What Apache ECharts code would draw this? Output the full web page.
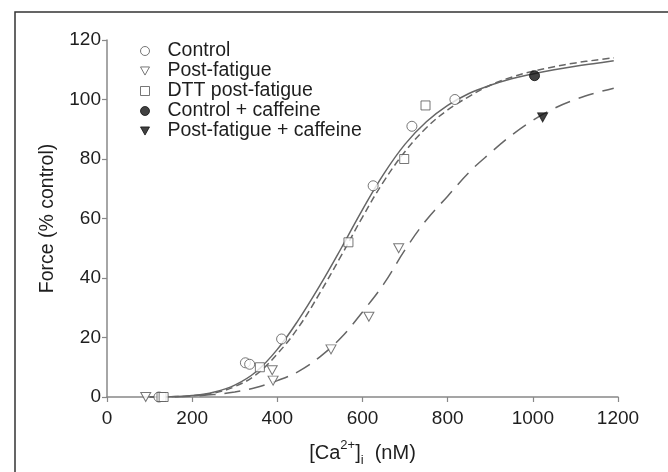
<!DOCTYPE html>
<html>
<head>
<meta charset="utf-8">
<script src="https://cdn.jsdelivr.net/npm/echarts@6/dist/echarts.min.js"></script>
<style>
html,body{margin:0;padding:0;background:#fff;}
#c{width:668px;height:472px;}
</style>
</head>
<body>
<div id="c"></div>
<script>
// ---- data ----
var xTicks = [0, 200, 400, 600, 800, 1000, 1200];
var yTicks = [0, 20, 40, 60, 80, 100, 120];

var controlPts = [[122, 0], [325, 11.5], [335, 11], [410, 19.5], [625, 71], [716, 91], [817, 100]];
var postFatiguePts = [[91, 0], [388, 9], [390, 5.5], [526, 16], [615, 27], [685, 50]];
var dttPts = [[128, 0], [133, 0], [359, 10], [567, 52], [698, 80], [748, 98]];
var controlCaffeinePts = [[1004, 108]];
var postFatigueCaffeinePts = [[1023, 94]];

var curveX = [100, 150, 200, 250, 300, 350, 400, 450, 500, 550, 600, 650, 700, 750, 800, 850, 900, 950, 1000, 1050, 1100, 1150, 1190];
var controlCurve = [0, 0.1, 0.5, 1.6, 4, 8.5, 16, 26, 37.5, 50, 63, 75, 85, 92.5, 98, 102, 104.8, 107, 108.6, 110, 111.2, 112.2, 113];
var dttCurve = [0, 0.1, 0.4, 1.3, 3.5, 7.5, 14.5, 23.5, 35, 47.5, 60.5, 72.5, 82.5, 90.5, 96.5, 101, 104.8, 107.5, 109.5, 111, 112.3, 113.3, 114];
var postFatigueCurve = [0, 0, 0.3, 0.8, 1.7, 3.2, 5.5, 8.6, 13.5, 20, 28.6, 38, 49.5, 59.5, 67.5, 75.5, 82, 88, 93, 97, 100, 102.3, 103.8];

var legendNames = ['Control', 'Post-fatigue', 'DTT post-fatigue', 'Control + caffeine', 'Post-fatigue + caffeine'];

function pairs(xs, ys) { return xs.map(function (x, i) { return [x, ys[i]]; }); }

var FONT = "'Liberation Sans', Arial, Helvetica, sans-serif";
var DOWN_TRI = 'path://M0,0 L10,0 L5,9 Z';
var markEdge = '#555';
var TXT = '#1e1e1e';

var chart = echarts.init(document.getElementById('c'));
chart.setOption({
  backgroundColor: '#fff',
  animation: false,
  graphic: [{
    type: 'rect',
    shape: { x: 15, y: 12, width: 700, height: 520 },
    style: { fill: 'none', stroke: '#333', lineWidth: 1.5 },
    silent: true, z: -1
  }],
  grid: { left: 107, right: 50, top: 40, bottom: 67, containLabel: false },
  legend: {
    orient: 'vertical',
    left: 135, top: 36,
    padding: 5,
    itemGap: 0,
    itemWidth: 9, itemHeight: 9,
    textStyle: { fontFamily: FONT, fontSize: 19.5, color: TXT, padding: [0, 0, 0, 13], lineHeight: 19.5 },
    data: [
      { name: legendNames[0], icon: 'circle', itemStyle: { color: '#fff', borderColor: markEdge, borderWidth: 1 } },
      { name: legendNames[1], icon: DOWN_TRI, itemStyle: { color: '#fff', borderColor: markEdge, borderWidth: 1 } },
      { name: legendNames[2], icon: 'rect', itemStyle: { color: '#fff', borderColor: markEdge, borderWidth: 1 } },
      { name: legendNames[3], icon: 'circle', itemStyle: { color: '#111', borderColor: '#111', borderWidth: 1 } },
      { name: legendNames[4], icon: DOWN_TRI, itemStyle: { color: '#111', borderColor: '#111', borderWidth: 1 } }
    ],
    selectedMode: false
  },
  xAxis: {
    type: 'value', min: 0, max: 1200, interval: 200,
    splitLine: { show: false },
    axisLine: { lineStyle: { color: '#888', width: 1.5 } },
    axisTick: { show: true, length: 5, lineStyle: { color: '#888', width: 1.2 } },
    axisLabel: { fontFamily: FONT, fontSize: 19, color: TXT, margin: 12,
      formatter: function (v) { return xTicks.indexOf(v) >= 0 ? String(v) : ''; } },
    name: '[Ca{sup|2+}]{sub|i}  (nM)',
    nameLocation: 'middle', nameGap: 42,
    nameTextStyle: {
      fontFamily: FONT, fontSize: 20, color: TXT, lineHeight: 28,
      rich: {
        sup: { fontFamily: FONT, fontSize: 13, color: TXT, verticalAlign: 'top', lineHeight: 13 },
        sub: { fontFamily: FONT, fontSize: 13, color: TXT, verticalAlign: 'bottom', lineHeight: 13 }
      }
    }
  },
  yAxis: {
    type: 'value', min: 0, max: 120, interval: 20,
    splitLine: { show: false },
    axisLine: { show: true, lineStyle: { color: '#888', width: 1.5 } },
    axisTick: { show: true, length: 5, lineStyle: { color: '#888', width: 1.2 } },
    axisLabel: { fontFamily: FONT, fontSize: 19, color: TXT, margin: 6,
      formatter: function (v) { return yTicks.indexOf(v) >= 0 ? String(v) : ''; } },
    name: 'Force (% control)',
    nameLocation: 'middle', nameGap: 49, nameRotate: 90,
    nameTextStyle: { fontFamily: FONT, fontSize: 19.5, color: TXT }
  },
  series: [
    { type: 'line', name: 'controlFit', data: pairs(curveX, controlCurve), smooth: 0.4, showSymbol: false,
      lineStyle: { color: '#666', width: 1.5 }, z: 1, silent: true },
    { type: 'line', name: 'dttFit', data: pairs(curveX, dttCurve), smooth: 0.4, showSymbol: false,
      lineStyle: { color: '#666', width: 1.5, type: [7, 4] }, z: 1, silent: true },
    { type: 'line', name: 'pfFit', data: pairs(curveX, postFatigueCurve), smooth: 0.4, showSymbol: false,
      lineStyle: { color: '#666', width: 1.5, type: [16, 9] }, z: 1, silent: true },
    { type: 'scatter', name: legendNames[0], data: controlPts, symbol: 'circle', symbolSize: 10,
      itemStyle: { color: '#fff', borderColor: markEdge, borderWidth: 1 }, z: 3 },
    { type: 'scatter', name: legendNames[1], data: postFatiguePts, symbol: 'triangle', symbolRotate: 180, symbolSize: [10, 9],
      itemStyle: { color: '#fff', borderColor: markEdge, borderWidth: 1 }, z: 3 },
    { type: 'scatter', name: legendNames[2], data: dttPts, symbol: 'rect', symbolSize: 9,
      itemStyle: { color: '#fff', borderColor: markEdge, borderWidth: 1 }, z: 3 },
    { type: 'scatter', name: legendNames[3], data: controlCaffeinePts, symbol: 'circle', symbolSize: 10,
      itemStyle: { color: '#111', borderColor: '#111', borderWidth: 1 }, z: 3 },
    { type: 'scatter', name: legendNames[4], data: postFatigueCaffeinePts, symbol: 'triangle', symbolRotate: 180, symbolSize: [10, 9],
      itemStyle: { color: '#111', borderColor: '#111', borderWidth: 1 }, z: 3 }
  ]
});
</script>
</body>
</html>
